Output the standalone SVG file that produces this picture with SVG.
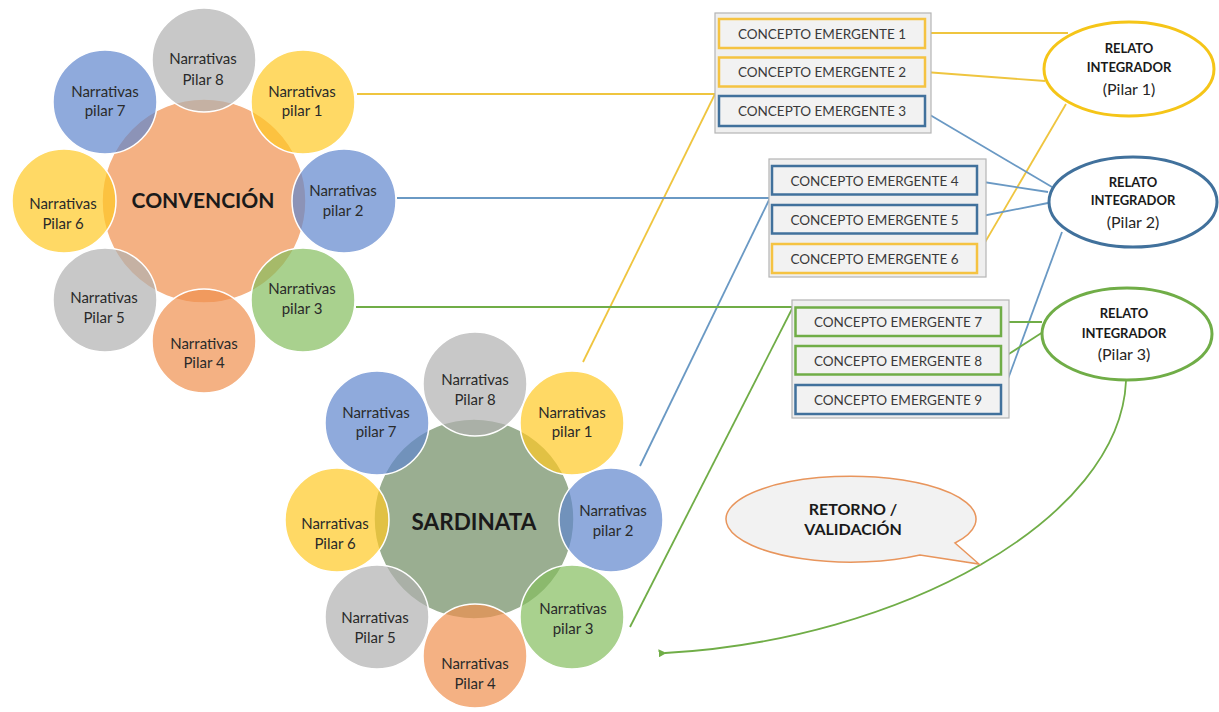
<svg xmlns="http://www.w3.org/2000/svg" width="1219" height="712" viewBox="0 0 1219 712">
<defs>
<style>
text{font-family:Lato,"Open Sans","Liberation Sans",sans-serif;fill:#262626;text-anchor:middle;dominant-baseline:central}
.sat{font-size:15px;fill:#2a2a2a}
.big{font-size:21px;font-weight:bold;fill:#1a1a1a}
.big2{font-size:22.5px;font-weight:bold;fill:#1a1a1a}
.ce{font-size:13.5px;fill:#3a3a3a}
.rb{font-size:13px;font-weight:bold;fill:#1a1a1a}
.rp{font-size:16px;fill:#262626}
.cb{font-size:16px;font-weight:bold;fill:#1a1a1a}
circle{stroke:#fff;stroke-width:1.5;fill-opacity:0.7}
.or{fill:#EF904E}.ye{fill:#FFC924}.bl{fill:#5F86CD}.gr{fill:#B0B0B0}.gn{fill:#84BD5E}.dg{fill:#6F8C62}
.cont{fill:#EFEFEF;stroke:#B4B4B4;stroke-width:1.2}
.box{fill:#F2F2F2;stroke-width:2.5}
.by{stroke:#F5C342}.bb{stroke:#41719C}.bg{stroke:#70AD47}
.ly{stroke:#EFC53F;stroke-width:1.8;fill:none}
.lb{stroke:#6A99C4;stroke-width:1.8;fill:none}
.lg{stroke:#70AD47;stroke-width:1.8;fill:none}
.ell{fill:#fff;stroke-width:3}
</style>
<marker id="arr" viewBox="0 0 10 10" refX="2" refY="5" markerWidth="8" markerHeight="8" orient="auto-start-reverse" markerUnits="userSpaceOnUse">
<path d="M0,5 L10,0 L10,10 Z" fill="#70AD47"/>
</marker>
</defs>
<rect width="1219" height="712" fill="#fff"/>

<g id="connectors">
<line class="ly" x1="357" y1="94" x2="715" y2="94"/>
<line class="ly" x1="583" y1="362" x2="715" y2="94"/>
<line class="lb" x1="397" y1="198" x2="770" y2="198"/>
<line class="lb" x1="640" y1="466" x2="770" y2="198"/>
<line class="lg" x1="356" y1="307" x2="793" y2="307"/>
<line class="lg" x1="630" y1="627" x2="793" y2="307"/>
<line class="ly" x1="925" y1="33" x2="1068" y2="33"/>
<line class="ly" x1="925" y1="72" x2="1045" y2="81"/>
<line class="ly" x1="977" y1="256" x2="1066" y2="104"/>
<line class="lb" x1="925" y1="112" x2="1052" y2="187"/>
<line class="lb" x1="977" y1="181" x2="1048" y2="192"/>
<line class="lb" x1="977" y1="217" x2="1048" y2="203"/>
<line class="lb" x1="1001" y1="398" x2="1062" y2="232"/>
<line class="lg" x1="1001" y1="322" x2="1042" y2="322"/>
<line class="lg" x1="1001" y1="359" x2="1043" y2="332"/>
<path class="lg" d="M1126,381 C1120,520 900,640 665,653" marker-end="url(#arr)"/>
</g>

<g id="convencion">
<circle class="or" cx="204" cy="201" r="102"/>
<circle class="gr" cx="204" cy="60" r="52"/>
<circle class="ye" cx="303" cy="102" r="52"/>
<circle class="bl" cx="344" cy="201" r="52"/>
<circle class="gn" cx="303" cy="300" r="52"/>
<circle class="or" cx="204" cy="341" r="52"/>
<circle class="gr" cx="105" cy="300" r="52"/>
<circle class="ye" cx="64" cy="201" r="52"/>
<circle class="bl" cx="105" cy="102" r="52"/>
<text class="big" x="203" y="199">CONVENCIÓN</text>
<text class="sat" x="203" y="58">Narrativas</text><text class="sat" x="203" y="79">Pilar 8</text>
<text class="sat" x="302" y="91">Narrativas</text><text class="sat" x="302" y="110">pilar 1</text>
<text class="sat" x="343" y="190">Narrativas</text><text class="sat" x="343" y="210">pilar 2</text>
<text class="sat" x="302" y="288">Narrativas</text><text class="sat" x="302" y="308">pilar 3</text>
<text class="sat" x="204" y="343">Narrativas</text><text class="sat" x="204" y="362">Pilar 4</text>
<text class="sat" x="104" y="297">Narrativas</text><text class="sat" x="104" y="317">Pilar 5</text>
<text class="sat" x="63" y="203">Narrativas</text><text class="sat" x="63" y="223">Pilar 6</text>
<text class="sat" x="105" y="91">Narrativas</text><text class="sat" x="105" y="110">pilar 7</text>
</g>

<g id="sardinata">
<circle class="dg" cx="474" cy="519" r="100"/>
<circle class="gr" cx="475" cy="384" r="52"/>
<circle class="ye" cx="572" cy="423" r="52"/>
<circle class="bl" cx="611" cy="520" r="52"/>
<circle class="gn" cx="572" cy="617" r="52"/>
<circle class="or" cx="475" cy="656" r="52"/>
<circle class="gr" cx="377" cy="617" r="52"/>
<circle class="ye" cx="337" cy="520" r="52"/>
<circle class="bl" cx="377" cy="423" r="52"/>
<text class="big2" x="474" y="521">SARDINATA</text>
<text class="sat" x="475" y="379">Narrativas</text><text class="sat" x="475" y="399">Pilar 8</text>
<text class="sat" x="572" y="412">Narrativas</text><text class="sat" x="572" y="431">pilar 1</text>
<text class="sat" x="613" y="510">Narrativas</text><text class="sat" x="613" y="530">pilar 2</text>
<text class="sat" x="573" y="608">Narrativas</text><text class="sat" x="573" y="628">pilar 3</text>
<text class="sat" x="475" y="663">Narrativas</text><text class="sat" x="475" y="683">Pilar 4</text>
<text class="sat" x="375" y="617">Narrativas</text><text class="sat" x="375" y="637">Pilar 5</text>
<text class="sat" x="335" y="523">Narrativas</text><text class="sat" x="335" y="543">Pilar 6</text>
<text class="sat" x="376" y="412">Narrativas</text><text class="sat" x="376" y="431">pilar 7</text>
</g>

<g id="grupo1">
<rect class="cont" x="715" y="13" width="216" height="120"/>
<g id="ce1"><rect class="box by" x="719" y="19" width="206" height="29"/><text class="ce" x="822" y="33.5">CONCEPTO EMERGENTE 1</text></g>
<g id="ce2"><rect class="box by" x="719" y="57.5" width="206" height="29"/><text class="ce" x="822" y="72">CONCEPTO EMERGENTE 2</text></g>
<g id="ce3"><rect class="box bb" x="719" y="96" width="206" height="30"/><text class="ce" x="822" y="111">CONCEPTO EMERGENTE 3</text></g>
</g>
<g id="grupo2">
<rect class="cont" x="769" y="159" width="217" height="118"/>
<g id="ce4"><rect class="box bb" x="772" y="166" width="205" height="28.5"/><text class="ce" x="874.5" y="181">CONCEPTO EMERGENTE 4</text></g>
<g id="ce5"><rect class="box bb" x="772" y="205" width="205" height="28.5"/><text class="ce" x="874.5" y="219.5">CONCEPTO EMERGENTE 5</text></g>
<g id="ce6"><rect class="box by" x="772" y="244" width="205" height="29"/><text class="ce" x="874.5" y="258.5">CONCEPTO EMERGENTE 6</text></g>
</g>
<g id="grupo3">
<rect class="cont" x="792" y="300" width="217" height="118"/>
<g id="ce7"><rect class="box bg" x="795.5" y="307.5" width="205.5" height="28.5"/><text class="ce" x="898" y="322">CONCEPTO EMERGENTE 7</text></g>
<g id="ce8"><rect class="box bg" x="795.5" y="346" width="205.5" height="28.5"/><text class="ce" x="898" y="360.5">CONCEPTO EMERGENTE 8</text></g>
<g id="ce9"><rect class="box bb" x="795.5" y="385" width="205.5" height="29"/><text class="ce" x="898" y="399.5">CONCEPTO EMERGENTE 9</text></g>
</g>

<g id="relato1">
<ellipse class="ell" cx="1129" cy="69" rx="85" ry="47" stroke="#F5C518"/>
<text class="rb" x="1129" y="48">RELATO</text>
<text class="rb" x="1129" y="67">INTEGRADOR</text>
<text class="rp" x="1129" y="88">(Pilar 1)</text>
</g>
<g id="relato2">
<ellipse class="ell" cx="1133" cy="202" rx="84" ry="45" stroke="#41719C"/>
<text class="rb" x="1133" y="182">RELATO</text>
<text class="rb" x="1133" y="200">INTEGRADOR</text>
<text class="rp" x="1133" y="221">(Pilar 2)</text>
</g>
<g id="relato3">
<ellipse class="ell" cx="1127" cy="334" rx="85" ry="46" stroke="#70AD47"/>
<text class="rb" x="1124" y="313">RELATO</text>
<text class="rb" x="1124" y="333">INTEGRADOR</text>
<text class="rp" x="1124" y="353">(Pilar 3)</text>
</g>

<g id="retorno">
<path d="M955,543 L979,564 L920,555 A125 43 0 1 1 955,543 Z" fill="#F2F2F2" stroke="#E8955C" stroke-width="1.5"/>
<text class="cb" x="853" y="508">RETORNO /</text>
<text class="cb" x="853" y="528">VALIDACIÓN</text>
</g>
</svg>
